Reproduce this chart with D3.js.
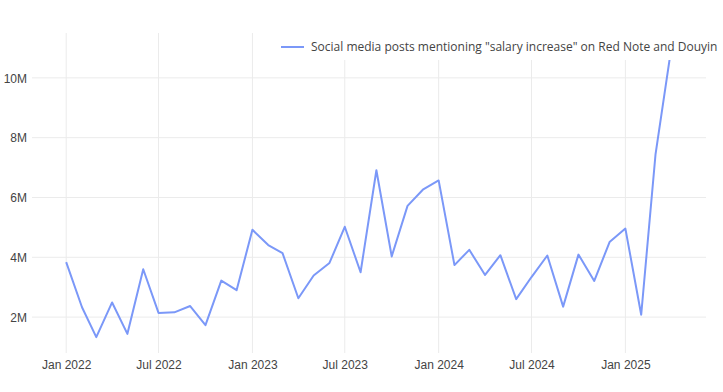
<!DOCTYPE html>
<html><head><meta charset="utf-8">
<script src="https://cdn.jsdelivr.net/npm/d3@7"></script>
<style>body{margin:0;background:#fff}svg{display:block;font-family:"Open Sans",sans-serif}</style>
</head><body><svg id="c" width="723" height="392"></svg>
<script>
const months = ["2022-01","2022-02","2022-03","2022-04","2022-05","2022-06","2022-07","2022-08","2022-09","2022-10","2022-11","2022-12",
"2023-01","2023-02","2023-03","2023-04","2023-05","2023-06","2023-07","2023-08","2023-09","2023-10","2023-11","2023-12",
"2024-01","2024-02","2024-03","2024-04","2024-05","2024-06","2024-07","2024-08","2024-09","2024-10","2024-11","2024-12",
"2025-01","2025-02","2025-03","2025-04"];
const posts = [3.84,2.33,1.33,2.49,1.44,3.60,2.14,2.16,2.37,1.73,3.22,2.90,
4.92,4.41,4.14,2.63,3.39,3.81,5.02,3.50,6.91,4.03,5.72,6.26,
6.57,3.74,4.25,3.41,4.07,2.60,3.34,4.06,2.35,4.09,3.21,4.51,
4.96,2.08,7.43,11.0].map(v=>v*1e6);
const xTicks = ["2022-01","2022-07","2023-01","2023-07","2024-01","2024-07","2025-01"];
const yTicks = [2e6,4e6,6e6,8e6,10e6];
const seriesName = 'Social media posts mentioning "salary increase" on Red Note and Douyin';

const parse = d3.timeParse("%Y-%m");
const data = months.map((m,i)=>({d:parse(m), v:posts[i]}));
const svg = d3.select("#c");
const L=32,R=706,T=33,B=353;
const x = d3.scaleTime().domain([new Date(2021,9,26), new Date(2025,5,8)]).range([L,R]);
const y = d3.scaleLinear().domain([0.8e6,11.5e6]).range([B,T]);
const grid="#ebebeb", txt="#444", lineC="#7b98f8";

svg.append("g").selectAll("line").data(xTicks.map(parse)).join("line")
 .attr("x1",d=>x(d)).attr("x2",d=>x(d)).attr("y1",T).attr("y2",B).attr("stroke",grid).attr("stroke-width",1);
svg.append("g").selectAll("line").data(yTicks).join("line")
 .attr("x1",L).attr("x2",R).attr("y1",d=>y(d)).attr("y2",d=>y(d)).attr("stroke",grid).attr("stroke-width",1);

const xAxis = d3.axisBottom(x).tickValues(xTicks.map(parse)).tickFormat(d3.timeFormat("%b %Y")).tickSize(0).tickPadding(0);
const gx = svg.append("g").attr("transform",`translate(0,${B})`).call(xAxis);
gx.select(".domain").remove();
gx.selectAll("text").attr("fill",txt).attr("font-size",12).attr("dy",null).attr("y",16);

const yAxis = d3.axisLeft(y).tickValues(yTicks).tickFormat(d=>(d/1e6)+"M").tickSize(0).tickPadding(0);
const gy = svg.append("g").attr("transform",`translate(27,0)`).call(yAxis);
gy.select(".domain").remove();
gy.selectAll("text").attr("fill",txt).attr("font-size",12).attr("x",0).attr("dy","0.35em");
svg.selectAll(".tick line").remove();

svg.append("defs").append("clipPath").attr("id","clip").append("rect").attr("x",L).attr("y",T).attr("width",R-L).attr("height",B-T);
svg.append("path").datum(data).attr("clip-path","url(#clip)")
 .attr("fill","none").attr("stroke",lineC).attr("stroke-width",2).attr("stroke-linejoin","round")
 .attr("d",d3.line().x(d=>x(d.d)).y(d=>y(d.v)));

const lg = svg.append("g");
lg.append("rect").attr("x",278).attr("y",T).attr("width",723-278).attr("height",27).attr("fill","#fff");
lg.append("line").attr("x1",281).attr("x2",304).attr("y1",47).attr("y2",47).attr("stroke",lineC).attr("stroke-width",2);
lg.append("text").attr("x",311).attr("y",47).attr("dy","0.35em").attr("fill",txt).attr("font-size",12).text(seriesName);
</script></body></html>
